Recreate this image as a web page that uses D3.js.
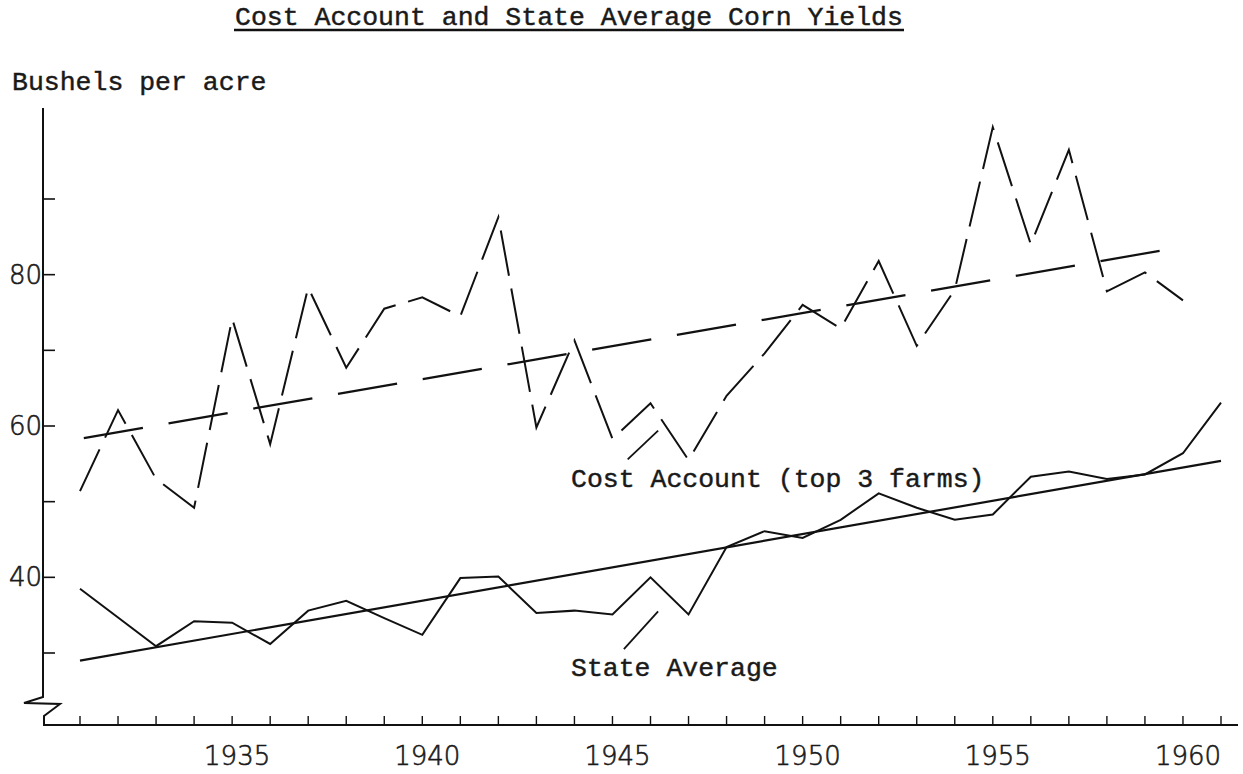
<!DOCTYPE html>
<html>
<head>
<meta charset="utf-8">
<script src="https://cdn.jsdelivr.net/npm/d3@7"></script>
<style>
  body { margin: 0; background: #fff; }
  svg { display: block; }
  .mono { font-family: "Liberation Mono", "Courier New", monospace; fill: #1a1a1a; stroke: #1a1a1a; stroke-width: 0.45px; }
  .num { font-family: "DejaVu Sans", sans-serif; font-weight: 200; fill: #1a1a1a; stroke: #1a1a1a; stroke-width: 0.6px; }
</style>
</head>
<body>
<div id="chart"></div>
<script>
// years on the x axis (one tick per year)
var years = d3.range(1931, 1962);
var yearLabels = [1935, 1940, 1945, 1950, 1955, 1960];
var yTicks = [30, 40, 50, 60, 70, 80, 90];
var yLabels = [40, 60, 80];

// state average corn yield, bushels per acre
var stateYears = d3.range(1931, 1962);
var stateAvg = [38.5, 34.7, 30.9, 34.2, 34.0, 31.2, 35.6, 36.9, 34.6, 32.4,
                39.9, 40.1, 35.3, 35.6, 35.1, 40.0, 35.1, 44.0, 46.1, 45.2,
                47.6, 51.1, 49.2, 47.6, 48.3, 53.3, 54.0, 53.0, 53.6, 56.4, 63.1];
// cost account (top 3 farms)
var costYears = d3.range(1931, 1961);
var costAcct = [51.4, 62.1, 53.0, 49.2, 74.2, 57.6, 78.3, 67.7, 75.5, 77.0,
                74.5, 87.6, 59.8, 71.3, 58.3, 63.0, 55.5, 64.0, 69.6, 76.0,
                72.9, 81.8, 70.6, 78.0, 99.5, 84.0, 96.5, 77.8, 80.3, 76.6];
// trend lines (end points)
var stateTrend = [[1931, 29.0], [1961, 55.4]];
var costTrend = [[1931.1, 58.4], [1959.9, 83.6]];
// little pointer strokes from the labels to the lines
var costPointer = [[1945.4, 55.6], [1946.2, 59.4]];
var statePointer = [[1945.3, 30.5], [1946.2, 35.5]];

const width = 1243;
const height = 774;

var svg = d3.select('#chart').append('svg')
  .attr('width', width)
  .attr('height', height);

var x = d3.scaleLinear().domain([1931, 1961]).range([80, 1221]);
var y = d3.scaleLinear().domain([30, 90]).range([653, 199]);

const axisX = 43;
const baseY = 725;

// title, underlined
svg.append('text')
  .attr('class', 'mono')
  .attr('x', 235).attr('y', 25)
  .style('font-size', '26.5px')
  .text('Cost Account and State Average Corn Yields');
svg.append('line')
  .attr('x1', 234).attr('x2', 904)
  .attr('y1', 30).attr('y2', 30)
  .attr('stroke', '#111').attr('stroke-width', 2.4);

svg.append('text')
  .attr('class', 'mono')
  .attr('x', 12).attr('y', 90)
  .style('font-size', '26.5px')
  .text('Bushels per acre');

// axes drawn by hand, with the broken-scale zigzag at the bottom left
svg.append('path')
  .attr('d', 'M' + axisX + ',108 L' + axisX + ',697 L24,703 L60,704 L44,716 L44,' + baseY + ' L1238,' + baseY)
  .attr('fill', 'none')
  .attr('stroke', '#111')
  .attr('stroke-width', 2);

svg.selectAll('.ytick')
  .data(yTicks)
  .enter().append('line')
  .attr('class', 'ytick')
  .attr('x1', axisX).attr('x2', axisX + 12)
  .attr('y1', d => y(d)).attr('y2', d => y(d))
  .attr('stroke', '#111').attr('stroke-width', 1.6);

svg.selectAll('.ylab')
  .data(yLabels)
  .enter().append('text')
  .attr('class', 'num')
  .attr('x', axisX - 1)
  .attr('y', d => y(d) + 9)
  .attr('text-anchor', 'end')
  .style('font-size', '26px')
  .text(d => d);

svg.selectAll('.xtick')
  .data(years)
  .enter().append('line')
  .attr('class', 'xtick')
  .attr('x1', d => x(d)).attr('x2', d => x(d))
  .attr('y1', baseY).attr('y2', baseY - 9)
  .attr('stroke', '#111').attr('stroke-width', 1.4);

svg.selectAll('.xlab')
  .data(yearLabels)
  .enter().append('text')
  .attr('class', 'num')
  .attr('x', d => x(d) + 5)
  .attr('y', 765)
  .attr('text-anchor', 'middle')
  .style('font-size', '26px')
  .text(d => d);

var line = d3.line().x(d => x(d[0])).y(d => y(d[1]));

// state average: solid line and solid trend
svg.append('path')
  .datum(d3.zip(stateYears, stateAvg))
  .attr('d', line)
  .attr('fill', 'none')
  .attr('stroke', '#111')
  .attr('stroke-width', 2)
  .attr('stroke-linejoin', 'miter');

svg.append('path')
  .datum(stateTrend)
  .attr('d', line)
  .attr('fill', 'none')
  .attr('stroke', '#111')
  .attr('stroke-width', 2.2);

// cost account: long dashes
svg.append('path')
  .datum(d3.zip(costYears, costAcct))
  .attr('d', line)
  .attr('fill', 'none')
  .attr('stroke', '#111')
  .attr('stroke-width', 2)
  .attr('stroke-dasharray', '46,13');

svg.append('path')
  .datum(costTrend)
  .attr('d', line)
  .attr('fill', 'none')
  .attr('stroke', '#111')
  .attr('stroke-width', 2.2)
  .attr('stroke-dasharray', '60,26');

// labels with pointers
svg.append('text')
  .attr('class', 'mono')
  .attr('x', 571).attr('y', 487)
  .style('font-size', '26.5px')
  .text('Cost Account (top 3 farms)');
svg.append('text')
  .attr('class', 'mono')
  .attr('x', 571).attr('y', 676)
  .style('font-size', '26.5px')
  .text('State Average');

[costPointer, statePointer].forEach(p => {
  svg.append('path')
    .datum(p)
    .attr('d', line)
    .attr('stroke', '#111')
    .attr('stroke-width', 1.8);
});
</script>
</body>
</html>
